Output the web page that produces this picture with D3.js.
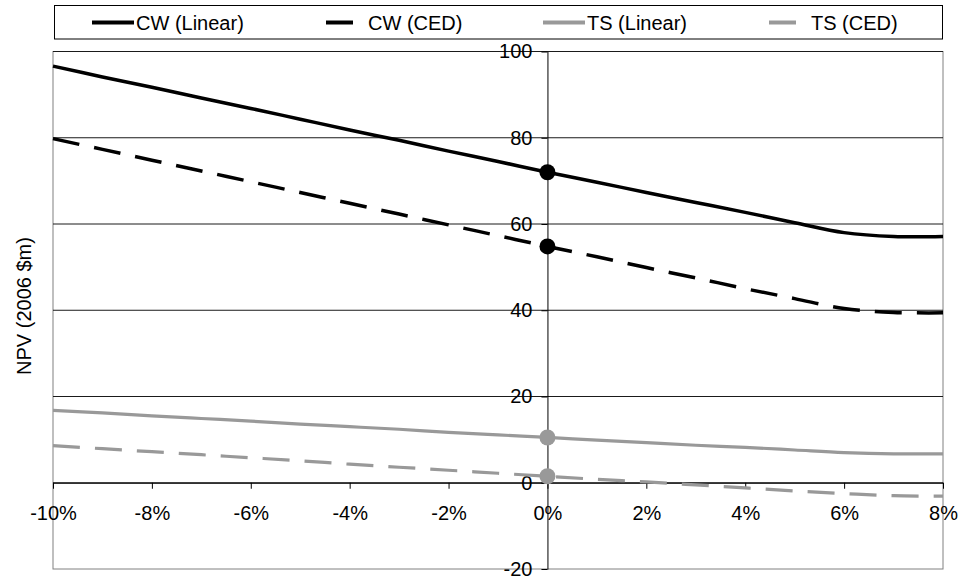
<!DOCTYPE html>
<html>
<head>
<meta charset="utf-8">
<script src="https://cdn.jsdelivr.net/npm/d3@7"></script>
<style>
  html, body { margin: 0; padding: 0; background: #fff; }
  svg { display: block; font-family: "Liberation Sans", Arial, sans-serif; }
</style>
</head>
<body>
<svg id="chart" width="960" height="581"></svg>
<script>
// Growth rate scenarios (fraction) on the horizontal axis
const growthRates = [-0.10, -0.09, -0.08, -0.07, -0.06, -0.05, -0.04, -0.03, -0.02, -0.01,
                      0.00, 0.01, 0.02, 0.03, 0.04, 0.05, 0.06, 0.07, 0.08];

// NPV (2006 $m) per scenario
const cwLinear = [96.6, 94.1, 91.7, 89.2, 86.8, 84.3, 81.8, 79.4, 76.9, 74.5,
                  72.0, 69.7, 67.3, 65.0, 62.7, 60.3, 58.0, 57.1, 57.1];
const cwCED    = [79.8, 77.3, 74.8, 72.3, 69.8, 67.3, 64.8, 62.3, 59.8, 57.3,
                  54.8, 52.4, 49.9, 47.5, 45.0, 42.7, 40.4, 39.5, 39.4];
const tsLinear = [16.8, 16.2, 15.5, 14.9, 14.3, 13.6, 13.0, 12.4, 11.7, 11.1,
                  10.5, 9.9, 9.3, 8.7, 8.2, 7.6, 7.0, 6.7, 6.7];
const tsCED    = [8.6, 7.9, 7.2, 6.5, 5.8, 5.1, 4.3, 3.6, 2.9, 2.2,
                  1.5, 0.8, 0.2, -0.5, -1.2, -1.9, -2.5, -3.0, -3.1];

// Base-case markers (0% growth)
const baseRate = 0.00;

const seriesNames = ["CW (Linear)", "CW (CED)", "TS (Linear)", "TS (CED)"];

// Axis ticks
const xTickValues = [-0.10, -0.08, -0.06, -0.04, -0.02, 0.00, 0.02, 0.04, 0.06, 0.08];
const xTickLabels = ["-10%", "-8%", "-6%", "-4%", "-2%", "0%", "2%", "4%", "6%", "8%"];
const yTickValues = [-20, 0, 20, 40, 60, 80, 100];
const yTickLabels = ["-20", "0", "20", "40", "60", "80", "100"];

const svg = d3.select("#chart");

const plotLeft = 53, plotRight = 943, plotTop = 51.5, plotBottom = 569;

const x = d3.scaleLinear().domain([-0.10, 0.08]).range([plotLeft, plotRight]);
const y = d3.scaleLinear().domain([-20, 100]).range([plotBottom, plotTop]);

const styles = [
  { color: "#000000", width: 3.5, dash: null },
  { color: "#000000", width: 3.5, dash: "27,15" },
  { color: "#999999", width: 3.2, dash: null },
  { color: "#999999", width: 3.2, dash: "27,15" }
];
const seriesValues = [cwLinear, cwCED, tsLinear, tsCED];

// Plot frame
svg.append("rect")
  .attr("x", plotLeft).attr("y", plotTop)
  .attr("width", plotRight - plotLeft).attr("height", plotBottom - plotTop)
  .attr("fill", "none").attr("stroke", "#808080").attr("stroke-width", 1);

// Horizontal gridlines
svg.append("g").selectAll("line")
  .data(yTickValues.filter(v => v !== -20))
  .join("line")
  .attr("x1", plotLeft).attr("x2", plotRight)
  .attr("y1", d => y(d)).attr("y2", d => y(d))
  .attr("stroke", "#1a1a1a").attr("stroke-width", 1);

// Vertical axis at 0% growth
const yAxis = d3.axisLeft(y)
  .tickValues(yTickValues)
  .tickFormat((d, i) => yTickLabels[i])
  .tickSize(6).tickSizeOuter(0).tickPadding(9);
const gy = svg.append("g")
  .attr("transform", `translate(${x(0)},0)`)
  .call(yAxis);
gy.selectAll("text").attr("font-size", 20).attr("fill", "#000").attr("font-family", "Liberation Sans, Arial, sans-serif");
gy.selectAll("line, path").attr("stroke", "#000");

// Horizontal axis at NPV = 0
const xAxis = d3.axisBottom(x)
  .tickValues(xTickValues)
  .tickFormat((d, i) => xTickLabels[i])
  .tickSize(6).tickSizeOuter(0).tickPadding(17);
const gx = svg.append("g")
  .attr("transform", `translate(0,${y(0)})`)
  .call(xAxis);
gx.selectAll("text").attr("font-size", 20).attr("fill", "#000").attr("font-family", "Liberation Sans, Arial, sans-serif");
gx.selectAll("line, path").attr("stroke", "#000");

// Series lines
const line = d3.line()
  .x((d, i) => x(growthRates[i]))
  .y(d => y(d))
  .curve(d3.curveCatmullRom.alpha(0.5));

seriesValues.forEach((vals, k) => {
  svg.append("path")
    .datum(vals)
    .attr("d", line)
    .attr("fill", "none")
    .attr("stroke", styles[k].color)
    .attr("stroke-width", styles[k].width)
    .attr("stroke-dasharray", styles[k].dash)
    .attr("stroke-linecap", "butt");
});

// Base-case markers
const baseIdx = growthRates.indexOf(baseRate);
svg.append("g").selectAll("circle")
  .data(seriesValues.map((vals, k) => ({ v: vals[baseIdx], k })))
  .join("circle")
  .attr("cx", x(baseRate))
  .attr("cy", d => y(d.v))
  .attr("r", 8)
  .attr("fill", d => styles[d.k].color);

// Y axis title
svg.append("text")
  .attr("transform", "translate(31,306) rotate(-90)")
  .attr("text-anchor", "middle")
  .attr("font-size", 20)
  .attr("fill", "#000")
  .text("NPV (2006 $m)");

// Legend
const legend = svg.append("g");
legend.append("rect")
  .attr("x", 54.5).attr("y", 5.5)
  .attr("width", 888).attr("height", 33.5)
  .attr("fill", "#fff").attr("stroke", "#000").attr("stroke-width", 1);

const legendX = [92, 324, 543, 767];
seriesNames.forEach((name, k) => {
  const lx = legendX[k];
  if (styles[k].dash) {
    legend.append("line")
      .attr("x1", lx + 2).attr("x2", lx + 29)
      .attr("y1", 22.5).attr("y2", 22.5)
      .attr("stroke", styles[k].color).attr("stroke-width", 4);
  } else {
    legend.append("line")
      .attr("x1", lx).attr("x2", lx + 42)
      .attr("y1", 22.5).attr("y2", 22.5)
      .attr("stroke", styles[k].color).attr("stroke-width", 4);
  }
  legend.append("text")
    .attr("x", lx + 44).attr("y", 29.5)
    .attr("font-size", 20)
    .attr("fill", "#000")
    .text(name);
});
</script>
</body>
</html>
